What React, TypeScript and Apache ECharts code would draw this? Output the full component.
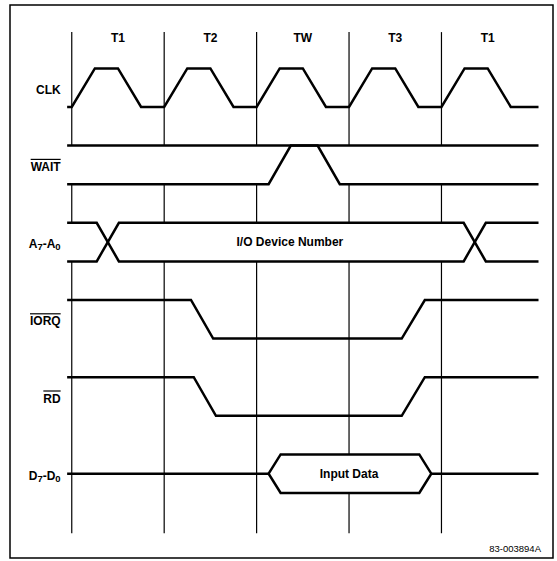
import React, { useEffect, useRef } from 'react';
import * as echarts from 'echarts';

// ---- data (time in T-states, level 0 = low, 1 = high, 0.5 = floating) ----
const T_STATES = ['T1', 'T2', 'TW', 'T3', 'T1'];
const CYCLE_LINES = [0, 1, 2, 3, 4];

const LANE_NAMES = ['CLK', 'WAIT', 'A7-A0', 'IORQ', 'RD', 'D7-D0'];
const LANE_OVERLINE = [false, true, false, true, true, false];

const CLK_T = [-0.05, 0, 0.25, 0.5, 0.75, 1, 1.25, 1.5, 1.75, 2, 2.25, 2.5, 2.75, 3, 3.25, 3.5, 3.75, 4, 4.25, 4.5, 4.75, 5.05];
const CLK_L = [0, 0, 1, 1, 0, 0, 1, 1, 0, 0, 1, 1, 0, 0, 1, 1, 0, 0, 1, 1, 0, 0];

const WAIT_T = [-0.05, 2.13, 2.37, 2.66, 2.9, 5.05];
const WAIT_L = [0, 0, 1, 1, 0, 0];
const WAIT_HI_T = [-0.05, 5.05];
const WAIT_HI_L = [1, 1];

const ADDR_T = [-0.05, 0.27, 0.51, 4.24, 4.48, 5.05];
const ADDR_EDGE1_L = [1, 1, 0, 0, 1, 1];
const ADDR_EDGE2_L = [0, 0, 1, 1, 0, 0];

const IORQ_T = [-0.05, 1.29, 1.53, 3.57, 3.82, 5.05];
const IORQ_L = [1, 1, 0, 0, 1, 1];

const RD_T = [-0.05, 1.32, 1.56, 3.57, 3.82, 5.05];
const RD_L = [1, 1, 0, 0, 1, 1];

const DATA_IDLE1_T = [-0.05, 2.13];
const DATA_IDLE2_T = [3.89, 5.05];
const DATA_IDLE_L = [0.5, 0.5];
const DATA_HEX_T = [2.13, 2.26, 3.76, 3.89, 3.76, 2.26];
const DATA_HEX_L = [0.5, 1, 1, 0.5, 0, 0];

const BUS_LABELS = ['I/O Device Number', 'Input Data'];
const BUS_LABEL_T = [2.36, 3.0];
const BUS_LABEL_LANE = [2, 5];

const FOOTER = '83-003894A';

// ---- layout helpers ----
const FONT_FAMILY = '"Liberation Sans", Arial, Helvetica, sans-serif';
const FONT = `bold 12px ${FONT_FAMILY}`;
const GRID_TOP = -1.94;
const GRID_BOTTOM = 11.04;
const LABEL_T = -0.12;
const COL_LABEL_V = -1.8;

const val = (lane: number, level: number) => 2 * lane - level;

let measureCtx: CanvasRenderingContext2D | null = null;
function textWidth(text: string, font: string) {
  if (!measureCtx) measureCtx = document.createElement('canvas').getContext('2d');
  if (!measureCtx) return text.length * 7;
  measureCtx.font = font;
  return measureCtx.measureText(text).width;
}

function signal(T: number[], L: number[], lane: number) {
  return {
    type: 'line',
    data: T.map((t, i) => [t, val(lane, L[i])]),
    showSymbol: false,
    symbol: 'none',
    silent: true,
    z: 2,
    lineStyle: { color: '#000', width: 2.5, join: 'miter', cap: 'butt' },
  };
}

export default function App() {
  const ref = useRef<HTMLDivElement>(null);
  useEffect(() => {
    document.body.style.margin = '0';
    if (!ref.current) return;
    const chart = echarts.init(ref.current, null, { renderer: 'svg' });

    const vSegs: number[][] = [];
    CYCLE_LINES.forEach((t) => {
      vSegs.push([t, GRID_TOP, val(1, 1)]);
      vSegs.push([t, val(1, 0), val(2, 1)]);
      vSegs.push([t, val(2, 0), GRID_BOTTOM]);
    });

    const option: any = {
      animation: false,
      backgroundColor: '#fff',
      grid: { left: 2.4375, width: 556.5, top: 0.85, height: 559.7 },
      xAxis: { type: 'value', min: -0.75, max: 5.25, show: false, splitLine: { show: false } },
      yAxis: { type: 'value', min: -2.75, max: 11.75, inverse: true, show: false, splitLine: { show: false } },
      graphic: [
        {
          type: 'rect',
          shape: { x: 10, y: 5, width: 543, height: 553 },
          style: { fill: 'none', stroke: '#000', lineWidth: 1.5 },
          z: 0,
        },
        {
          type: 'text',
          x: 541,
          y: 548,
          style: {
            text: FOOTER,
            font: `9.5px ${FONT_FAMILY}`,
            fill: '#000',
            align: 'right',
            verticalAlign: 'middle',
            textAlign: 'right',
            textVerticalAlign: 'middle',
          },
        },
      ],
      series: [
        {
          type: 'custom',
          silent: true,
          z: 1,
          data: vSegs,
          encode: { x: 0, y: [1, 2] },
          renderItem: (params: any, api: any) => {
            const p1 = api.coord([api.value(0), api.value(1)]);
            const p2 = api.coord([api.value(0), api.value(2)]);
            return {
              type: 'line',
              shape: { x1: p1[0], y1: p1[1], x2: p2[0], y2: p2[1] },
              style: { stroke: '#000', lineWidth: 1.2 },
            };
          },
        },
        signal(CLK_T, CLK_L, 0),
        signal(WAIT_HI_T, WAIT_HI_L, 1),
        signal(WAIT_T, WAIT_L, 1),
        signal(ADDR_T, ADDR_EDGE1_L, 2),
        signal(ADDR_T, ADDR_EDGE2_L, 2),
        signal(IORQ_T, IORQ_L, 3),
        signal(RD_T, RD_L, 4),
        signal(DATA_IDLE1_T, DATA_IDLE_L, 5),
        signal(DATA_IDLE2_T, DATA_IDLE_L, 5),
        {
          type: 'custom',
          silent: true,
          z: 3,
          data: DATA_HEX_T.map((t, i) => [t, val(5, DATA_HEX_L[i])]),
          renderItem: (params: any, api: any) => {
            if (params.dataIndex !== 0) return null;
            const pts = DATA_HEX_T.map((t, i) => api.coord([t, val(5, DATA_HEX_L[i])]));
            return {
              type: 'polygon',
              shape: { points: pts },
              style: { fill: '#fff', stroke: '#000', lineWidth: 2.5, lineJoin: 'miter' },
            };
          },
        },
        // column labels
        {
          type: 'custom',
          silent: true,
          z: 5,
          data: T_STATES.map((n, i) => [CYCLE_LINES[i] + 0.5, COL_LABEL_V, i]),
          renderItem: (params: any, api: any) => {
            const p = api.coord([api.value(0), api.value(1)]);
            return {
              type: 'text',
              x: p[0],
              y: p[1],
              style: {
                text: T_STATES[api.value(2)],
                font: FONT,
                fill: '#000',
                align: 'center',
                verticalAlign: 'middle',
                textAlign: 'center',
                textVerticalAlign: 'middle',
              },
            };
          },
        },
        // bus labels
        {
          type: 'custom',
          silent: true,
          z: 5,
          data: BUS_LABELS.map((n, i) => [BUS_LABEL_T[i], val(BUS_LABEL_LANE[i], 0.5), i]),
          renderItem: (params: any, api: any) => {
            const p = api.coord([api.value(0), api.value(1)]);
            return {
              type: 'text',
              x: p[0],
              y: p[1],
              style: {
                text: BUS_LABELS[api.value(2)],
                font: FONT,
                fill: '#000',
                align: 'center',
                verticalAlign: 'middle',
                textAlign: 'center',
                textVerticalAlign: 'middle',
              },
            };
          },
        },
        // lane labels
        {
          type: 'custom',
          silent: true,
          z: 5,
          data: LANE_NAMES.map((n, k) => [LABEL_T, val(k, 0.5), k]),
          renderItem: (params: any, api: any) => {
            const p = api.coord([api.value(0), api.value(1)]);
            const k = api.value(2);
            const name = LANE_NAMES[k];
            const x = p[0];
            const y = p[1] + 2;
            const children: any[] = [];
            const sub = name.match(/^([A-Z])(\d)-([A-Z])(\d)$/);
            if (sub) {
              children.push({
                type: 'text',
                x,
                y,
                style: {
                  text: `{a|${sub[1]}}{s|${sub[2]}}{a|-${sub[3]}}{s|${sub[4]}}`,
                  fill: '#000',
                  align: 'right',
                  verticalAlign: 'middle',
                  textAlign: 'right',
                  textVerticalAlign: 'middle',
                  rich: {
                    a: { font: FONT, fill: '#000' },
                    s: { font: `bold 9.5px ${FONT_FAMILY}`, fill: '#000', padding: [5, 0, 0, 0] },
                  },
                },
              });
            } else {
              children.push({
                type: 'text',
                x,
                y,
                style: {
                  text: name,
                  font: FONT,
                  fill: '#000',
                  align: 'right',
                  verticalAlign: 'middle',
                  textAlign: 'right',
                  textVerticalAlign: 'middle',
                },
              });
            }
            if (LANE_OVERLINE[k]) {
              const w = textWidth(name, FONT);
              children.push({
                type: 'line',
                shape: { x1: x - w, y1: y - 7.5, x2: x, y2: y - 7.5 },
                style: { stroke: '#000', lineWidth: 1.2 },
              });
            }
            return { type: 'group', children };
          },
        },
      ],
    };
    chart.setOption(option);
    return () => chart.dispose();
  }, []);
  return <div ref={ref} style={{ width: 557, height: 561 }} />;
}
